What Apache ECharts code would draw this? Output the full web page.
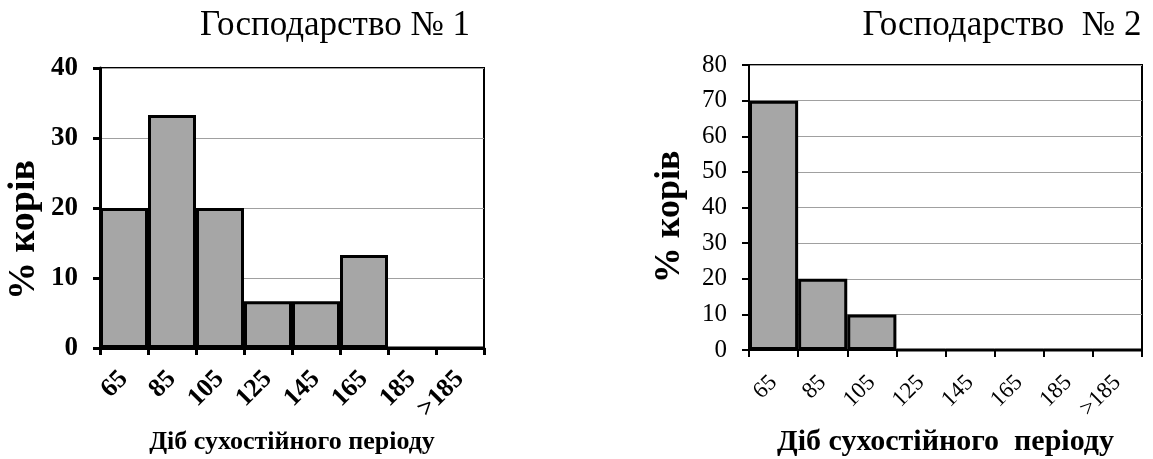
<!DOCTYPE html>
<html><head><meta charset="utf-8">
<script src="https://cdn.jsdelivr.net/npm/echarts@6/dist/echarts.min.js"></script>
<style>html,body{margin:0;padding:0;background:#fff}#c{width:1153px;height:459px}</style>
</head><body><div id="c"></div>
<script>
const categories = ['65','85','105','125','145','165','185','>185'];
const farm1Values = [20, 33.3, 20, 6.67, 6.67, 13.3, 0, 0];
const farm2Values = [70, 20, 10, 0, 0, 0, 0, 0];
const title1 = 'Господарство № 1';
const title2 = 'Господарство  № 2';
const yName = '% корів';
const xName1 = 'Діб сухостійного періоду';
const xName2 = 'Діб сухостійного  періоду';

const F = '"Liberation Serif","Times New Roman",serif';
const chart = echarts.init(document.getElementById('c'), null, {renderer:'canvas'});
function xAxis(idx, bold, fs, margin, name, nfs, gap, lw){
  return {type:'category', gridIndex:idx, data:categories, boundaryGap:true,
    axisLine:{lineStyle:{color:'#000', width:lw}},
    axisTick:{show:true, length:7, lineStyle:{color:'#000', width:lw}},
    axisLabel:{rotate:45, color:'#000', fontFamily:F, fontWeight:bold?'bold':'normal', fontSize:fs, margin:margin, interval:0},
    name:name, nameLocation:'middle', nameGap:gap,
    nameTextStyle:{color:'#000', fontFamily:F, fontWeight:'bold', fontSize:nfs}};
}
function yAxis(idx, max, interval, bold, fs, lw){
  return {type:'value', gridIndex:idx, min:0, max:max, interval:interval,
    axisLine:{show:true, lineStyle:{color:'#000', width:lw}},
    axisTick:{show:true, length:7, lineStyle:{color:'#000', width:lw}},
    axisLabel:{color:'#000', fontFamily:F, fontWeight:bold?'bold':'normal', fontSize:fs, margin:22},
    splitLine:{show:true, lineStyle:{color:'#a0a0a0', width:1}}};
}
function yNameText(x, y, fs){
  return {type:'text', x:x, y:y, rotation:Math.PI/2,
    style:{text:yName, font:'bold '+fs+'px '+F, fill:'#000', textAlign:'center', textVerticalAlign:'middle'}};
}
chart.setOption({
  animation:false,
  title:[
    {text:title1, left:330, top:3, textAlign:'center', textStyle:{fontFamily:F, fontWeight:'normal', fontSize:35, color:'#000'}},
    {text:title2, left:997, top:3, textAlign:'center', textStyle:{fontFamily:F, fontWeight:'normal', fontSize:35, color:'#000'}}
  ],
  graphic:[ yNameText(24, 230, 38), yNameText(670, 217, 36) ],
  grid:[
    {left:100, top:68, width:384, height:280, show:true, borderColor:'#000', borderWidth:2, backgroundColor:'transparent', outerBoundsMode:'none', containLabel:false},
    {left:749, top:65, width:393, height:285, show:true, borderColor:'#000', borderWidth:2, backgroundColor:'transparent', outerBoundsMode:'none', containLabel:false}
  ],
  xAxis:[ xAxis(0, true, 26, 27, xName1, 26, 81, 3), xAxis(1, false, 23, 29, xName2, 30, 75, 2) ],
  yAxis:[ yAxis(0, 40, 10, true, 27, 3), yAxis(1, 80, 10, false, 25, 2) ],
  series:[
    {type:'bar', xAxisIndex:0, yAxisIndex:0, data:farm1Values, barCategoryGap:'0%',
      itemStyle:{color:'#a6a6a6', borderColor:'#000', borderWidth:3}},
    {type:'bar', xAxisIndex:1, yAxisIndex:1, data:farm2Values, barCategoryGap:'0%',
      itemStyle:{color:'#a6a6a6', borderColor:'#000', borderWidth:3}}
  ]
});
</script></body></html>
